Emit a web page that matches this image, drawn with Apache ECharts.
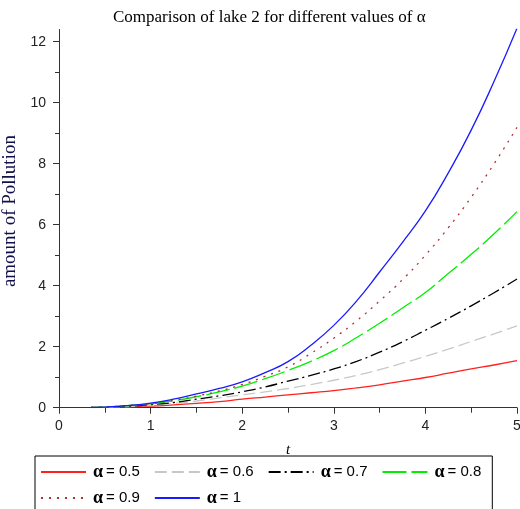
<!DOCTYPE html>
<html>
<head>
<meta charset="utf-8">
<script src="https://cdn.jsdelivr.net/npm/echarts@6/dist/echarts.min.js"></script>
<style>
  html, body { margin: 0; padding: 0; background: #fff; }
  #chart { width: 520px; height: 509px; }
</style>
</head>
<body>
<div id="chart"></div>
<script>
// values, t from 0.35 to 5
const tValues = [0.35, 0.5, 0.75, 1, 1.25, 1.5, 1.75, 2, 2.25, 2.5, 2.75, 3, 3.25, 3.5, 3.75, 4, 4.25, 4.5, 4.75, 5];
const alpha05 = [0.005, 0.01, 0.03, 0.05, 0.09, 0.14, 0.2, 0.28, 0.35, 0.42, 0.49, 0.56, 0.65, 0.75, 0.87, 0.99, 1.13, 1.27, 1.4, 1.54];
const alpha06 = [0.01, 0.015, 0.04, 0.08, 0.14, 0.22, 0.32, 0.42, 0.52, 0.63, 0.76, 0.9, 1.06, 1.25, 1.46, 1.68, 1.92, 2.17, 2.42, 2.68];
const alpha07 = [0.01, 0.02, 0.05, 0.1, 0.17, 0.28, 0.39, 0.52, 0.68, 0.87, 1.06, 1.27, 1.52, 1.82, 2.16, 2.54, 2.93, 3.34, 3.77, 4.22];
const alpha08 = [0.01, 0.02, 0.07, 0.13, 0.23, 0.36, 0.52, 0.71, 0.95, 1.22, 1.52, 1.87, 2.3, 2.77, 3.27, 3.78, 4.4, 5.03, 5.7, 6.43];
const alpha09 = [0.01, 0.02, 0.07, 0.13, 0.24, 0.38, 0.55, 0.76, 1.03, 1.34, 1.78, 2.28, 2.85, 3.5, 4.2, 5.0, 5.9, 6.9, 8.0, 9.19];
const alpha10 = [0.01, 0.02, 0.07, 0.15, 0.28, 0.45, 0.63, 0.85, 1.15, 1.51, 2.05, 2.7, 3.5, 4.45, 5.42, 6.45, 7.7, 9.1, 10.7, 12.44];
const alphaLabels = ["0.5", "0.6", "0.7", "0.8", "0.9", "1"];
const yTicks = [0, 2, 4, 6, 8, 10, 12];

const chart = echarts.init(document.getElementById("chart"));

const styles = [
  { color: "#ff2020", type: "solid" },
  { color: "#c8c8c8", type: [12, 5] },
  { color: "#000000", type: [12, 4, 2, 4] },
  { color: "#00ee00", type: [24, 5] },
  { color: "#b03030", type: [2, 6] },
  { color: "#1a1aff", type: "solid" },
];
const values = [alpha05, alpha06, alpha07, alpha08, alpha09, alpha10];

const series = values.map((vals, i) => ({
  name: "α = " + alphaLabels[i],
  type: "line",
  symbol: "none",
  smooth: true,
  lineStyle: { color: styles[i].color, width: 1.3, type: styles[i].type },
  itemStyle: { color: styles[i].color },
  data: vals.map((v, k) => [tValues[k], v]),
}));

chart.setOption({
  animation: false,
  backgroundColor: "#fff",
  title: {
    text: "Comparison of lake 2 for different values of α",
    left: 108,
    top: 4,
    textStyle: { fontFamily: "Liberation Serif", fontSize: 17, fontWeight: "normal", color: "#000" },
  },
  grid: { left: 59, right: 3, top: 29.5, bottom: 101.3, outerBoundsMode: "none" },
  xAxis: {
    type: "value",
    min: 0,
    max: 5,
    interval: 1,
    name: "t",
    nameLocation: "middle",
    nameGap: 35,
    nameTextStyle: { fontFamily: "Liberation Serif", fontStyle: "italic", fontSize: 15, color: "#000" },
    axisLine: { lineStyle: { color: "#333" } },
    axisTick: { length: 6, lineStyle: { color: "#333" } },
    minorTick: { show: true, splitNumber: 2, length: 5, lineStyle: { color: "#333" } },
    axisLabel: { fontFamily: "Liberation Sans", fontSize: 14, color: "#222", margin: 11 },
    splitLine: { show: false },
  },
  yAxis: {
    type: "value",
    min: 0,
    max: 12.4,
    interval: 2,
    name: "amount of Pollution",
    nameLocation: "middle",
    nameRotate: 90,
    nameGap: 22,
    nameTextStyle: { fontFamily: "Liberation Serif", fontSize: 19, color: "#10104a", padding: [0, 0, 0, 15] },
    axisLine: { show: true, lineStyle: { color: "#333" } },
    axisTick: { show: true, length: 6, customValues: yTicks, lineStyle: { color: "#333" } },
    minorTick: { show: true, splitNumber: 2, length: 4, lineStyle: { color: "#333" } },
    axisLabel: { fontFamily: "Liberation Sans", fontSize: 14, color: "#222", margin: 13, customValues: yTicks },
    splitLine: { show: false },
  },
  legend: {
    left: 35,
    top: 456,
    width: 470,
    padding: [7, 5, 6, 5],
    itemWidth: 45,
    itemHeight: 18,
    itemGap: 8,
    borderColor: "#000",
    borderWidth: 1,
    itemStyle: { opacity: 0 },
    formatter: (name) => "{a|α}{b|= " + name.split("= ")[1] + "}",
    textStyle: {
      rich: {
        a: { fontFamily: "Liberation Serif", fontWeight: "bold", fontSize: 18, color: "#000", padding: [0, 3, 0, 2], lineHeight: 18 },
        b: { fontFamily: "Liberation Sans", fontSize: 15, color: "#000", padding: [0, 6, 0, 0], lineHeight: 18 },
      },
    },
    data: series.map((s) => s.name),
  },
  series,
});
</script>
</body>
</html>
